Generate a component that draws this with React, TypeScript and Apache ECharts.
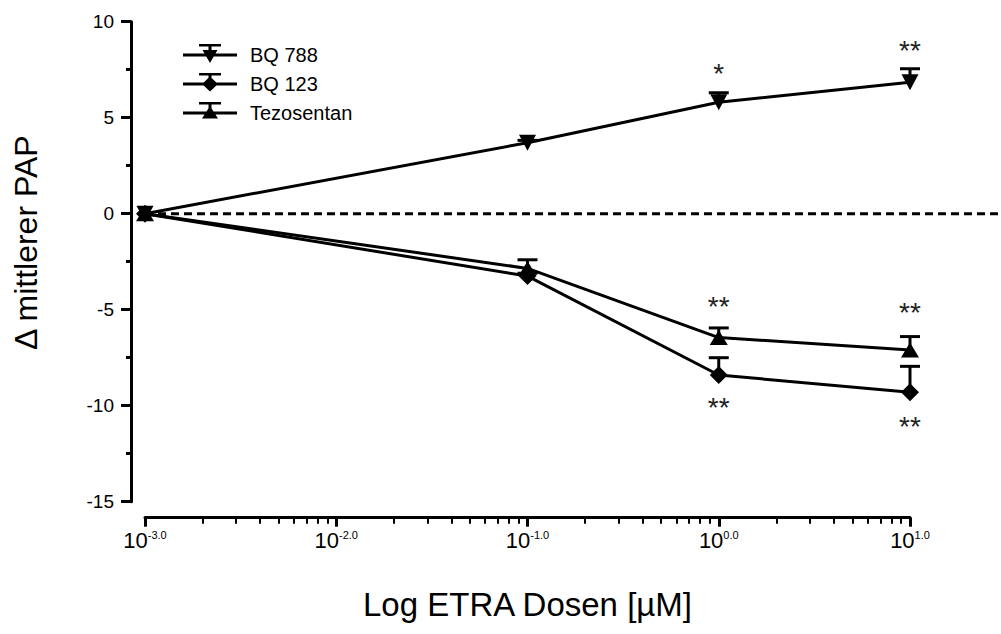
import React, { useEffect, useRef } from "react";
import * as echarts from "echarts";

const FONT = "'Liberation Sans', Arial, Helvetica, sans-serif";

// Doses (µM)
const doses = [0.001, 0.1, 1, 10];

// Series means and (upper) SEM
const bq788 = [0, 3.7, 5.8, 6.85];
const bq788Err = [0, 0.12, 0.5, 0.7];
const bq788Sig = ["", "", "*", "**"];

const bq123 = [0, -3.25, -8.4, -9.3];
const bq123Err = [0, 0.15, 0.9, 1.35];
const bq123Sig = ["", "", "**", "**"];

const tezo = [0, -2.85, -6.45, -7.1];
const tezoErr = [0, 0.45, 0.5, 0.7];
const tezoSig = ["", "", "**", "**"];

// Axis ticks
const yTickMin = -15;
const yTickMax = 10;
const yTickStep = 5;
const xDecades = [-3, -2, -1, 0];
const minorMultipliers = [2, 3, 4, 5, 6, 7, 8, 9];

const minorTickValues: number[] = [];
xDecades.forEach((d) =>
  minorMultipliers.forEach((k) => minorTickValues.push(d + Math.log10(k)))
);

// Legend icons: line + marker + upward error bar (54 x 21 box)
const BOUNDS = "M0 0 L0 0 Z M54 21 L54 21 Z ";
const BASE = "M0 9.5 H54 V12.5 H0 Z M16 0 H38 V2.5 H16 Z M25.5 0 H28.5 V11 H25.5 Z ";
const iconDown = "path://" + BOUNDS + BASE + "M19.5 6 L34.5 6 L27 19 Z";
const iconDiamond = "path://" + BOUNDS + BASE + "M27 3.5 L35 11 L27 18.5 L19 11 Z";
const iconUp = "path://" + BOUNDS + BASE + "M27 4 L35 16.5 L19 16.5 Z";

function lineData(vals: number[], sig: string[], pos: string, dists: number[]) {
  return vals.map((v, i) => {
    const item: any = { value: [doses[i], v] };
    if (sig[i]) {
      item.label = {
        show: true,
        formatter: sig[i],
        position: pos,
        distance: dists[i],
        fontSize: 28,
        color: "#222",
        fontFamily: FONT,
      };
    }
    return item;
  });
}

function errData(vals: number[], errs: number[]) {
  return vals.map((v, i) => [doses[i], v, v + errs[i]]);
}

function renderErr(params: any, api: any) {
  const x = api.value(0);
  const y = api.value(1);
  const top = api.value(2);
  if (top === y) return null;
  const p1 = api.coord([x, y]);
  const p2 = api.coord([x, top]);
  const st = { stroke: "#000", lineWidth: 3 };
  return {
    type: "group",
    children: [
      { type: "line", shape: { x1: p1[0], y1: p1[1], x2: p2[0], y2: p2[1] }, style: st },
      { type: "line", shape: { x1: p2[0] - 10, y1: p2[1], x2: p2[0] + 10, y2: p2[1] }, style: st },
    ],
  };
}

export default function App() {
  const ref = useRef<HTMLDivElement>(null);
  useEffect(() => {
    if (!ref.current) return;
    const chart = echarts.init(ref.current, undefined, { renderer: "svg" });
    const lineStyle = { color: "#000", width: 3 };
    const option: any = {
      animation: false,
      backgroundColor: "#fff",
      textStyle: { fontFamily: FONT },
      grid: {
        left: 145,
        right: 91,
        top: 21.7,
        bottom: 132.3,
        containLabel: false,
        outerBoundsMode: "none",
      },
      legend: {
        orient: "vertical",
        left: 178,
        top: 39,
        itemWidth: 54,
        itemHeight: 21,
        itemGap: 8,
        selectedMode: false,
        textStyle: { fontSize: 20, color: "#000", fontFamily: FONT, padding: [0, 0, 0, 8] },
        data: [
          { name: "BQ 788", icon: iconDown },
          { name: "BQ 123", icon: iconDiamond },
          { name: "Tezosentan", icon: iconUp },
        ],
      },
      xAxis: [
        {
          type: "log",
          logBase: 10,
          min: 0.001,
          max: 10,
          offset: 16,
          axisLine: { show: true, onZero: false, lineStyle: { color: "#000", width: 3 } },
          axisTick: { show: true, length: 9, lineStyle: { color: "#000", width: 3 } },
          splitLine: { show: false },
          axisLabel: {
            margin: 12,
            color: "#000",
            formatter: (v: number) => {
              const e = Math.round(Math.log10(v) * 10) / 10;
              return `{b|10}{s|${e.toFixed(1)}}`;
            },
            rich: {
              b: { fontSize: 22, color: "#000", fontFamily: FONT },
              s: { fontSize: 11, color: "#000", fontFamily: FONT, verticalAlign: "top" },
            },
          },
          name: "Log ETRA Dosen [µM]",
          nameLocation: "middle",
          nameGap: 70,
          nameTextStyle: { fontSize: 33, color: "#000", fontFamily: FONT },
        },
        {
          type: "value",
          min: -3,
          max: 1,
          position: "bottom",
          offset: 16,
          axisLine: { show: false, onZero: false },
          axisLabel: { show: false },
          splitLine: { show: false },
          axisTick: {
            show: true,
            length: 6,
            lineStyle: { color: "#000", width: 2 },
            customValues: minorTickValues,
          },
        },
      ],
      yAxis: {
        type: "value",
        min: yTickMin,
        max: yTickMax,
        interval: yTickStep,
        offset: 14,
        axisLine: { show: true, onZero: false, lineStyle: { color: "#000", width: 3 } },
        axisTick: { show: true, length: 10, lineStyle: { color: "#000", width: 3 } },
        minorTick: { show: true, splitNumber: 2, length: 5, lineStyle: { color: "#000", width: 3 } },
        splitLine: { show: false },
        axisLabel: { fontSize: 19, color: "#000", margin: 17, fontFamily: FONT },
        name: "Δ mittlerer PAP",
        nameLocation: "middle",
        nameGap: 89,
        nameTextStyle: { fontSize: 32, color: "#000", fontFamily: FONT, padding: [0, 0, 0, 38] },
      },
      series: [
        {
          name: "BQ 788 SEM",
          type: "custom",
          renderItem: renderErr,
          encode: { x: 0, y: [1, 2] },
          data: errData(bq788, bq788Err),
          z: 1,
        },
        {
          name: "BQ 123 SEM",
          type: "custom",
          renderItem: renderErr,
          encode: { x: 0, y: [1, 2] },
          data: errData(bq123, bq123Err),
          z: 1,
        },
        {
          name: "Tezosentan SEM",
          type: "custom",
          renderItem: renderErr,
          encode: { x: 0, y: [1, 2] },
          data: errData(tezo, tezoErr),
          z: 1,
        },
        {
          name: "BQ 788",
          type: "line",
          symbol: "triangle",
          symbolRotate: 180,
          symbolSize: [17, 16],
          itemStyle: { color: "#000" },
          lineStyle,
          data: lineData(bq788, bq788Sig, "top", [0, 0, 7, 10]),
          z: 3,
        },
        {
          name: "BQ 123",
          type: "line",
          symbol: "diamond",
          symbolSize: [18, 18],
          itemStyle: { color: "#000" },
          lineStyle,
          data: lineData(bq123, bq123Sig, "bottom", [0, 0, 10, 11]),
          z: 3,
        },
        {
          name: "Tezosentan",
          type: "line",
          symbol: "triangle",
          symbolSize: [18, 15],
          itemStyle: { color: "#000" },
          lineStyle,
          data: lineData(tezo, tezoSig, "top", [0, 0, 10, 16]),
          z: 3,
        },
      ],
    };
    chart.setOption(option);
    const p0 = chart.convertToPixel({ xAxisIndex: 0, yAxisIndex: 0 }, [doses[0], 0]) as number[];
    chart.setOption({
      graphic: [
        {
          type: "line",
          z: 2,
          shape: { x1: p0[0], y1: p0[1], x2: 1001, y2: p0[1] },
          style: { stroke: "#000", lineWidth: 3, lineDash: [8, 5] },
        },
      ],
    });
    return () => chart.dispose();
  }, []);
  return (
    <div
      ref={ref}
      style={{ position: "fixed", left: 0, top: 0, width: 1001, height: 634, background: "#fff" }}
    />
  );
}
